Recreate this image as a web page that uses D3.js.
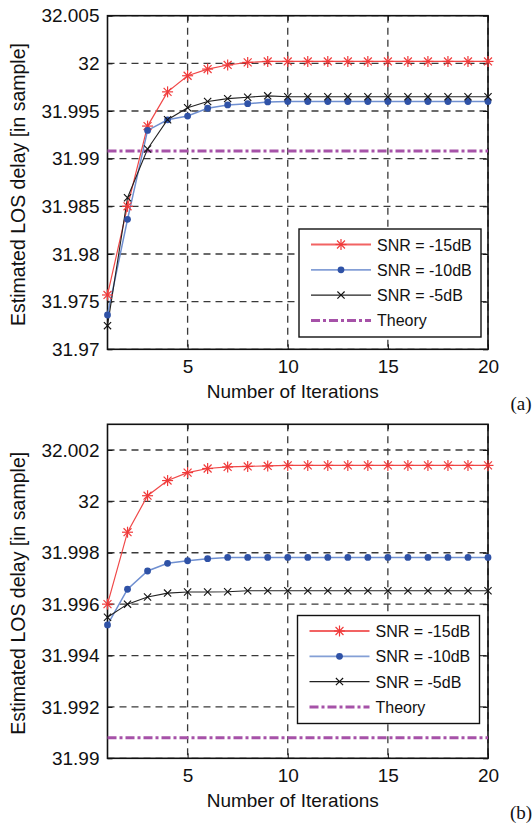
<!DOCTYPE html>
<html>
<head>
<meta charset="utf-8">
<script src="https://cdn.jsdelivr.net/npm/d3@7"></script>
<style>
  body { margin: 0; background: #fff; }
  svg { display: block; font-family: "Liberation Sans", Arial, sans-serif; }
</style>
</head>
<body>
<div id="chart"></div>
<script>
// iterations (x categories)
var iterations = [1, 2, 3, 4, 5, 6, 7, 8, 9, 10, 11, 12, 13, 14, 15, 16, 17, 18, 19, 20];

// panel (a)
var snr15_a = [31.9757, 31.9850, 31.99342, 31.99701, 31.9987, 31.9994, 31.99983, 32.0001, 32.0002, 32.0002,
               32.0002, 32.0002, 32.0002, 32.0002, 32.0002, 32.0002, 32.0002, 32.0002, 32.0002, 32.0002];
var snr10_a = [31.9736, 31.98364, 31.99296, 31.99408, 31.99447, 31.99529, 31.99564, 31.99577, 31.99595, 31.9960,
               31.9960, 31.9960, 31.9960, 31.9960, 31.9960, 31.9960, 31.9960, 31.9960, 31.9960, 31.9960];
var snr5_a  = [31.97248, 31.9859, 31.99102, 31.99408, 31.99535, 31.99599, 31.9963, 31.99645, 31.99659, 31.9965,
               31.9965, 31.9965, 31.9965, 31.9965, 31.9965, 31.9965, 31.9965, 31.9965, 31.9965, 31.9965];
var yTicks_a = [31.97, 31.975, 31.98, 31.985, 31.99, 31.995, 32, 32.005];
var yDomain_a = [31.97, 32.005];

// panel (b)
var snr15_b = [31.9960, 31.9988, 32.00022, 32.00081, 32.00112, 32.00128, 32.00134, 32.00136, 32.00138, 32.0014,
               32.0014, 32.0014, 32.0014, 32.0014, 32.0014, 32.0014, 32.0014, 32.0014, 32.0014, 32.0014];
var snr10_b = [31.99519, 31.99658, 31.99729, 31.99759, 31.99769, 31.99777, 31.99782, 31.99782, 31.99782, 31.99782,
               31.99782, 31.99782, 31.99782, 31.99782, 31.99782, 31.99782, 31.99782, 31.99782, 31.99782, 31.99782];
var snr5_b  = [31.99549, 31.9960, 31.99628, 31.99643, 31.99647, 31.99647, 31.99648, 31.99652, 31.99652, 31.99652,
               31.99652, 31.99652, 31.99652, 31.99652, 31.99652, 31.99652, 31.99652, 31.99652, 31.99652, 31.99652];
var yTicks_b = [31.99, 31.992, 31.994, 31.996, 31.998, 32, 32.002];
var yDomain_b = [31.99, 32.003];

var theory = 31.9908;
var xTicks = [5, 10, 15, 20];
var seriesNames = ["SNR = -15dB", "SNR = -10dB", "SNR = -5dB", "Theory"];

var width = 532, height = 825;

var svg = d3.select("#chart")
    .append("svg")
    .attr("width", width)
    .attr("height", height);

function drawMarker(g, type, x, y) {
    if (type == "star") {
        var r = 5.5;
        var st = { stroke: "#f03a3a", w: 1.2 };
        g.append("line").attr("x1", x - r).attr("y1", y).attr("x2", x + r).attr("y2", y)
            .style("stroke", st.stroke).style("stroke-width", st.w);
        g.append("line").attr("x1", x).attr("y1", y - r).attr("x2", x).attr("y2", y + r)
            .style("stroke", st.stroke).style("stroke-width", st.w);
        var d = r * 0.72;
        g.append("line").attr("x1", x - d).attr("y1", y - d).attr("x2", x + d).attr("y2", y + d)
            .style("stroke", st.stroke).style("stroke-width", st.w);
        g.append("line").attr("x1", x - d).attr("y1", y + d).attr("x2", x + d).attr("y2", y - d)
            .style("stroke", st.stroke).style("stroke-width", st.w);
    } else if (type == "dot") {
        g.append("circle").attr("cx", x).attr("cy", y).attr("r", 3.4)
            .style("fill", "#2f52a6");
    } else if (type == "cross") {
        var c = 3.6;
        g.append("line").attr("x1", x - c).attr("y1", y - c).attr("x2", x + c).attr("y2", y + c)
            .style("stroke", "#111").style("stroke-width", 1.1);
        g.append("line").attr("x1", x - c).attr("y1", y + c).attr("x2", x + c).attr("y2", y - c)
            .style("stroke", "#111").style("stroke-width", 1.1);
    }
}

var styles = [
    { color: "#f04848", marker: "star", width: 1.2 },
    { color: "#6f8fd0", marker: "dot", width: 1.5 },
    { color: "#222", marker: "cross", width: 1.1 }
];

function drawPanel(cfg) {
    var left = 107.5, right = 488;
    var xScale = d3.scaleLinear().domain([1, 20]).range([left, right]);
    var yScale = d3.scaleLinear().domain(cfg.yDomain).range([cfg.bottom, cfg.top]);

    var g = svg.append("g");

    // grid
    g.append("g").selectAll("line")
        .data(cfg.yTicks)
        .join("line")
        .attr("x1", left).attr("x2", right)
        .attr("y1", function (d) { return yScale(d); })
        .attr("y2", function (d) { return yScale(d); })
        .style("stroke", "#3a3a3a")
        .style("stroke-width", 1.3)
        .style("stroke-dasharray", "7,5");
    g.append("g").selectAll("line")
        .data(xTicks)
        .join("line")
        .attr("y1", cfg.top).attr("y2", cfg.bottom)
        .attr("x1", function (d) { return xScale(d); })
        .attr("x2", function (d) { return xScale(d); })
        .style("stroke", "#3a3a3a")
        .style("stroke-width", 1.3)
        .style("stroke-dasharray", "7,5");

    // axes (MATLAB style inward ticks)
    var yAxis = d3.axisLeft(yScale).tickValues(cfg.yTicks).tickSizeInner(-5).tickSizeOuter(0).tickPadding(8)
        .tickFormat(function (d) { return d3.format("")(+d.toFixed(3)); });
    var yG = g.append("g").attr("transform", "translate(" + left + ",0)").call(yAxis);
    yG.selectAll("text").style("font-size", "19px").style("fill", "#111")
        .style("font-family", "Liberation Sans, Arial, sans-serif");

    var yAxisR = d3.axisRight(yScale).tickValues(cfg.yTicks).tickSizeInner(-5).tickSizeOuter(0).tickFormat("");
    g.append("g").attr("transform", "translate(" + right + ",0)").call(yAxisR);

    var xAxis = d3.axisBottom(xScale).tickValues(xTicks).tickSizeInner(-5).tickSizeOuter(0).tickPadding(10);
    var xG = g.append("g").attr("transform", "translate(0," + cfg.bottom + ")").call(xAxis);
    xG.selectAll("text").style("font-size", "19px").style("fill", "#111")
        .style("font-family", "Liberation Sans, Arial, sans-serif");

    var xAxisT = d3.axisTop(xScale).tickValues(xTicks).tickSizeInner(-5).tickSizeOuter(0).tickFormat("");
    g.append("g").attr("transform", "translate(0," + cfg.top + ")").call(xAxisT);

    g.selectAll(".domain").style("stroke", "none");
    g.selectAll(".tick line").style("stroke", "#111").style("stroke-width", 1);

    // frame
    g.append("rect")
        .attr("x", left).attr("y", cfg.top)
        .attr("width", right - left).attr("height", cfg.bottom - cfg.top)
        .style("fill", "none").style("stroke", "#111").style("stroke-width", 1.6);

    // theory line
    g.append("line")
        .attr("x1", left).attr("x2", right)
        .attr("y1", yScale(theory)).attr("y2", yScale(theory))
        .style("stroke", "#a652a8")
        .style("stroke-width", 3)
        .style("stroke-dasharray", "9,3,3,3");

    // series
    var line = d3.line()
        .x(function (d, i) { return xScale(iterations[i]); })
        .y(function (d) { return yScale(d); });

    cfg.series.forEach(function (s, k) {
        g.append("path")
            .datum(s)
            .attr("d", line)
            .style("fill", "none")
            .style("stroke", styles[k].color)
            .style("stroke-width", styles[k].width);
    });
    cfg.series.forEach(function (s, k) {
        var mg = g.append("g");
        s.forEach(function (v, i) {
            drawMarker(mg, styles[k].marker, xScale(iterations[i]), yScale(v));
        });
    });

    // axis labels
    g.append("text")
        .attr("x", (left + right) / 2 - 5)
        .attr("y", cfg.bottom + 49)
        .attr("text-anchor", "middle")
        .style("font-size", "19px")
        .style("fill", "#111")
        .text("Number of Iterations");

    g.append("text")
        .attr("transform", "translate(25," + ((cfg.top + cfg.bottom) / 2 + 2) + ") rotate(-90)")
        .attr("text-anchor", "middle")
        .style("font-size", "19.5px")
        .style("fill", "#111")
        .text("Estimated LOS delay [in sample]");

    g.append("text")
        .attr("x", 521)
        .attr("y", cfg.bottom + 61)
        .attr("text-anchor", "middle")
        .style("font-family", "Liberation Serif, Times New Roman, serif")
        .style("font-size", "19px")
        .style("fill", "#111")
        .text(cfg.tag);

    // legend
    var lg = g.append("g").attr("transform", "translate(" + cfg.legendX + "," + cfg.legendY + ")");
    lg.append("rect")
        .attr("width", 182).attr("height", 108)
        .style("fill", "#fff").style("stroke", "#111").style("stroke-width", 1.4);

    seriesNames.forEach(function (name, k) {
        var y = 15.5 + k * 25.3;
        if (k < 3) {
            lg.append("line").attr("x1", 12).attr("x2", 72).attr("y1", y).attr("y2", y)
                .style("stroke", styles[k].color).style("stroke-width", k == 2 ? 1.1 : 1.8)
                .style("opacity", k == 2 ? 1 : 0.85);
            drawMarker(lg, styles[k].marker, 42, y);
        } else {
            lg.append("line").attr("x1", 12).attr("x2", 72).attr("y1", y).attr("y2", y)
                .style("stroke", "#a652a8").style("stroke-width", 3)
                .style("stroke-dasharray", "9,3,3,3");
        }
        lg.append("text")
            .attr("x", 78).attr("y", y + 6)
            .style("font-size", "16px")
            .style("fill", "#111")
            .text(name);
    });
}

drawPanel({
    top: 15.7, bottom: 349.3,
    yDomain: yDomain_a, yTicks: yTicks_a,
    series: [snr15_a, snr10_a, snr5_a],
    legendX: 299, legendY: 229,
    tag: "(a)"
});

drawPanel({
    top: 424.3, bottom: 758.3,
    yDomain: yDomain_b, yTicks: yTicks_b,
    series: [snr15_b, snr10_b, snr5_b],
    legendX: 297.5, legendY: 615.5,
    tag: "(b)"
});
</script>
</body>
</html>
